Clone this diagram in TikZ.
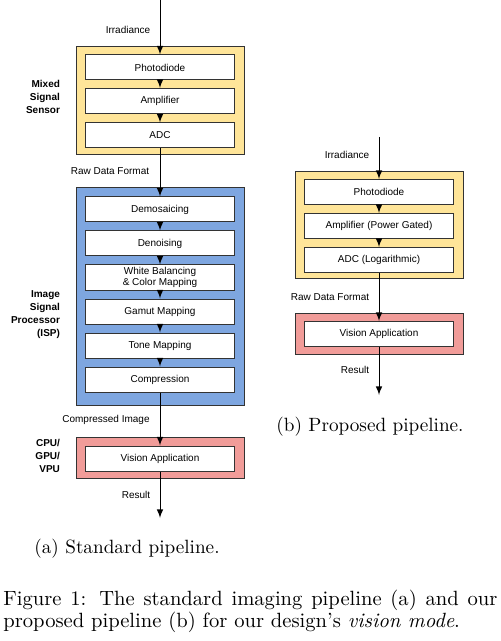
\documentclass[tikz,border=0pt]{standalone}
\usepackage{fontspec}
\newfontfamily\diagfont{Liberation Sans}
\usetikzlibrary{positioning,arrows}
\definecolor{sensorfill}{HTML}{FFE599}
\definecolor{ispfill}{HTML}{7EA6E0}
\definecolor{cpufill}{HTML}{F19C99}
\definecolor{edgegray}{HTML}{333333}

\begin{document}
\begin{tikzpicture}[x=0.5pt, y=-0.5pt,
                    every node/.style = {font=\diagfont\fontsize{5}{6.5}\selectfont},
                    block/.style = {draw=edgegray, line width=0.5pt, inner sep=0pt,
                      minimum width=84pt},
                    stage/.style = {draw=edgegray, line width=0.5pt, fill=white,
                      inner sep=0pt, align=center,
                      minimum width=74.5pt, minimum height=12.5pt},
                    unit/.style = {font=\diagfont\bfseries\fontsize{5}{6.5}\selectfont,
                      align=right, anchor=east},
                    flow/.style = {-latex, line width=0.5pt},
                    capt/.style = {font=\fontsize{9.6}{10.8}\selectfont}]
  \useasboundingbox (0,0) rectangle (500,641);

  \node[block, fill=sensorfill, minimum height=54pt] (sensA) at (160,101) {};
  \node[block, fill=ispfill, minimum height=108.5pt] (isp) at (160,296.5) {};
  \node[block, fill=cpufill, minimum height=20.5pt] (cpuA) at (160,457.5) {};

  \node[stage] (pdA) at (160,67.5) {Photodiode};
  \node[stage] (ampA) at (160,101) {Amplifier};
  \node[stage] (adcA) at (160,135.5) {ADC};
  \node[stage] (demo) at (160,209.5) {Demosaicing};
  \node[stage] (denoise) at (160,243.5) {Denoising};
  \node[stage] (wb) at (160,277.5) {White Balancing\\[-0.6pt] \& Color Mapping};
  \node[stage] (gamut) at (160,311.5) {Gamut Mapping};
  \node[stage] (tone) at (160,345.5) {Tone Mapping};
  \node[stage] (comp) at (160,379.5) {Compression};
  \node[stage] (visA) at (160,458.5) {Vision Application};

  \node[unit] (mssLabel) at (67,97) {Mixed\\Signal\\Sensor};
  \node[unit] (ispLabel) at (67,315) {Image\\Signal\\Processor\\(ISP)};
  \node[unit] (cpuLabel) at (67,456) {CPU/\\GPU/\\VPU};

  \coordinate (inA) at (160,0);
  \coordinate (outA) at (160,518);
  \draw[flow] (inA) -- (pdA);
  \draw[flow] (pdA) -- (ampA);
  \draw[flow] (ampA) -- (adcA);
  \draw[flow] (adcA) -- (demo);
  \draw[flow] (demo) -- (denoise);
  \draw[flow] (denoise) -- (wb);
  \draw[flow] (wb) -- (gamut);
  \draw[flow] (gamut) -- (tone);
  \draw[flow] (tone) -- (comp);
  \draw[flow] (comp) -- (visA);
  \draw[flow] (visA) -- (outA);

  \node (irrA) at (128,30) {Irradiance};
  \node (rawA) at (110,171) {Raw Data Format};
  \node (compImg) at (106,420) {Compressed Image};
  \node (resA) at (136,495) {Result};

  \node[block, fill=sensorfill, minimum height=53.5pt] (sensB) at (379,225.5) {};
  \node[block, fill=cpufill, minimum height=20.5pt] (cpuB) at (379,333.5) {};

  \node[stage] (pdB) at (379,192) {Photodiode};
  \node[stage] (ampB) at (379,226) {Amplifier (Power Gated)};
  \node[stage] (adcB) at (379,260) {ADC (Logarithmic)};
  \node[stage] (visB) at (379,334) {Vision Application};

  \coordinate (inB) at (379,137);
  \coordinate (outB) at (379,395);
  \draw[flow] (inB) -- (pdB);
  \draw[flow] (pdB) -- (ampB);
  \draw[flow] (ampB) -- (adcB);
  \draw[flow] (adcB) -- (visB);
  \draw[flow] (visB) -- (outB);

  \node (irrB) at (347,155) {Irradiance};
  \node (rawB) at (330,297) {Raw Data Format};
  \node (resB) at (355,370) {Result};

  \node[capt] (subA) at (127,549) {(a) Standard pipeline.};
  \node[capt] (subB) at (370,427) {(b) Proposed pipeline.};
  \node[capt, font=\fontsize{10.3}{11}\selectfont, anchor=north west, inner sep=0pt,
    text width=247pt, align=justify]
    (fig) at (3,590) {Figure 1: The standard imaging pipeline (a) and our
    \mbox{proposed} pipeline (b) for our design's \emph{vision mode}.};
\end{tikzpicture}
\end{document}
